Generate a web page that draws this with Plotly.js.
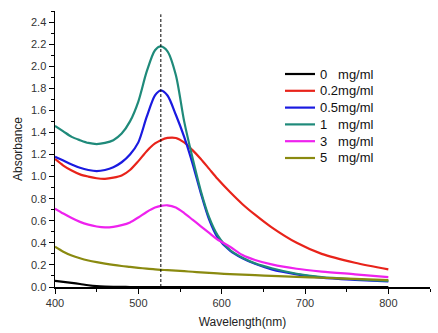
<!DOCTYPE html>
<html><head><meta charset="utf-8">
<script src="https://cdn.plot.ly/plotly-3.0.1.min.js"></script>
<style>html,body{margin:0;padding:0;background:#fff}#chart{width:438px;height:333px}</style>
</head><body><div id="chart"></div>
<script>
const wavelength = [400,410,420,430,440,450,460,470,480,490,500,510,520,527,535,545,555,565,575,585,595,610,625,640,660,690,720,760,800];
const c0  = [0.055,0.046,0.037,0.027,0.016,0.008,0.004,0.002,0.001,0,0,0,0,0,0,0,0,0,0,0,0,0,0,0,0,0,0,0,0];
const c02 = [1.16,1.10,1.055,1.02,1.00,0.985,0.98,0.99,1.01,1.06,1.14,1.23,1.30,1.33,1.35,1.35,1.31,1.24,1.16,1.07,0.98,0.86,0.75,0.655,0.54,0.40,0.30,0.22,0.16];
const c05 = [1.18,1.145,1.11,1.08,1.06,1.05,1.06,1.085,1.13,1.20,1.31,1.54,1.735,1.78,1.735,1.56,1.36,1.12,0.85,0.61,0.45,0.33,0.26,0.21,0.16,0.115,0.085,0.065,0.05];
const c1  = [1.46,1.41,1.36,1.33,1.305,1.295,1.305,1.33,1.39,1.50,1.68,1.95,2.145,2.18,2.135,1.92,1.50,1.17,0.87,0.63,0.47,0.335,0.265,0.215,0.17,0.12,0.09,0.07,0.055];
const c3  = [0.71,0.665,0.625,0.59,0.565,0.548,0.54,0.545,0.56,0.585,0.63,0.68,0.72,0.735,0.74,0.72,0.67,0.61,0.55,0.49,0.43,0.365,0.29,0.245,0.205,0.165,0.14,0.115,0.09];
const c5  = [0.365,0.32,0.285,0.26,0.24,0.225,0.212,0.2,0.19,0.182,0.174,0.166,0.16,0.156,0.152,0.148,0.143,0.138,0.133,0.128,0.123,0.117,0.112,0.107,0.1,0.092,0.084,0.074,0.063];
const seriesNames = ['0\u00a0\u00a0\u00a0mg/ml','0.2mg/ml','0.5mg/ml','1\u00a0\u00a0\u00a0mg/ml','3\u00a0\u00a0\u00a0mg/ml','5\u00a0\u00a0\u00a0mg/ml'];
const seriesValues = [c0,c02,c05,c1,c3,c5];
const seriesColors = ['#000000','#e8231a','#1a1ae0','#1f8a7a','#ee22ee','#8a8a10'];
const peakWavelength = 527;

const traces = seriesValues.map((v,i)=>({
  x: wavelength, y: v, type:'scatter', mode:'lines', name: seriesNames[i], showlegend:false,
  line:{color: seriesColors[i], width:2.2, shape:'spline', smoothing:0.8}
}));

// Custom legend (compact row spacing as in the reference)
const plotL = 55, plotW = 375, plotB = 287, plotH = 276;
const legShapes = [], legAnn = [];
seriesNames.forEach((n,i)=>{
  const py = 74 + 16.8*i;
  const yp = (plotB - py)/plotH;
  legShapes.push({type:'line', xref:'paper', yref:'paper', x0:(285-plotL)/plotW, x1:(315-plotL)/plotW, y0:yp, y1:yp,
    line:{color:seriesColors[i], width:2.2}});
  legAnn.push({xref:'paper', yref:'paper', x:(318-plotL)/plotW, y:yp, xanchor:'left', yanchor:'middle',
    text:n, showarrow:false, font:{family:'Liberation Sans, Arial, sans-serif', size:13, color:'#111'}});
});

const tickFont = {family:'Liberation Sans, Arial, sans-serif', size:11, color:'#333'};
const layout = {
  width:438, height:333,
  margin:{l:55, r:8, t:11, b:46},
  paper_bgcolor:'#fff', plot_bgcolor:'#fff',
  showlegend:false,
  xaxis:{range:[400,850], dtick:100, tick0:400, showgrid:false, zeroline:false,
    showline:true, linecolor:'#000', linewidth:1.5, ticks:'outside', ticklen:5, tickcolor:'#000',
    minor:{dtick:50, ticks:'outside', ticklen:3, tickcolor:'#000', showgrid:false},
    tickfont:tickFont,
    title:{text:'Wavelength(nm)', font:{family:'Liberation Sans, Arial, sans-serif', size:12, color:'#222'}, standoff:10}},
  yaxis:{range:[0,2.5], dtick:0.2, tick0:0, tickformat:'.1f', showgrid:false, zeroline:false,
    showline:true, linecolor:'#000', linewidth:1.5, ticks:'outside', ticklen:5, tickcolor:'#000',
    minor:{dtick:0.1, ticks:'outside', ticklen:3, tickcolor:'#000', showgrid:false},
    tickfont:tickFont,
    title:{text:'Absorbance', font:{family:'Liberation Sans, Arial, sans-serif', size:12, color:'#222'}, standoff:6}},
  shapes:[{type:'line', xref:'x', yref:'y', x0:peakWavelength, x1:peakWavelength, y0:0, y1:2.47,
    line:{color:'#000', width:1, dash:'3px,2px'}}].concat(legShapes),
  annotations: legAnn
};
Plotly.newPlot('chart', traces, layout, {displayModeBar:false, staticPlot:true});
</script></body></html>
